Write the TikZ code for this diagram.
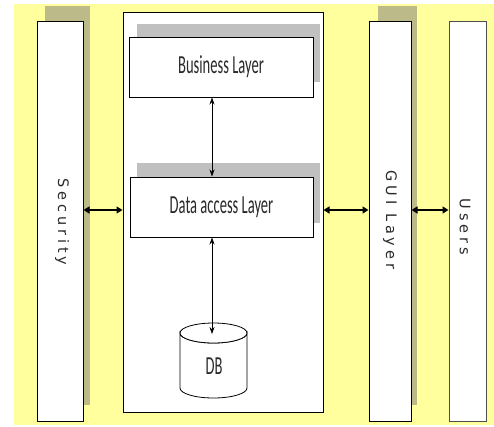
\documentclass[tikz,border=0pt]{standalone}
\usepackage{fontspec}
\setmainfont{Carlito}
\newfontfamily\boxfont[FakeStretch=0.56]{Carlito}
\newfontfamily\colfont[LetterSpace=27]{DejaVu Sans}
\usetikzlibrary{arrows.meta}
\definecolor{bgyellow}{HTML}{FFFF9E}
\definecolor{olshadow}{HTML}{BDBA8A}
\definecolor{grshadow}{HTML}{C0C0C0}
\definecolor{txtgray}{HTML}{2A2A2A}
\tikzset{
  colbox/.style={draw=black, line width=1pt, fill=white, inner sep=0pt},
  layerbox/.style={draw=black, line width=1pt, fill=white, inner sep=0pt,
    font=\boxfont\fontsize{26}{28}\selectfont, text=txtgray},
  collabel/.style={rotate=-90, inner sep=0pt, text=txtgray,
    font=\colfont\fontsize{14.5}{15}\selectfont},
  dbshape/.style={draw=black, line width=0.8pt, fill=white},
  harrow/.style={line width=1.6pt, {Triangle[length=6pt,width=7pt]}-{Triangle[length=6pt,width=7pt]}},
  varrow/.style={line width=0.8pt, {Stealth[length=7pt,width=5pt]}-{Stealth[length=7pt,width=5pt]}},
}
\begin{document}
\begin{tikzpicture}[x=1pt,y=-1pt]
\useasboundingbox (0,0) rectangle (494,426);
\fill[bgyellow] (14,4) rectangle (494,425);
% shadows
\fill[olshadow] (45,6) rectangle (90,405);
\fill[olshadow] (378,6) rectangle (417,405);
% columns
\node[colbox, minimum width=46pt, minimum height=400pt] (sec) at (60,221) {};
\node[collabel] (seclbl) at (62,222) {Security};
\node[colbox, minimum width=42pt, minimum height=400pt] (gui) at (390,221) {};
\node[collabel] (guilbl) at (390,220) {GUI Layer};
\node[colbox, draw=black!70, minimum width=37pt, minimum height=400pt] (users) at (467.5,221) {};
\node[collabel] (userslbl) at (465,227) {Users};
% main box
\node[colbox, minimum width=200pt, minimum height=400pt] (main) at (223,212) {};
% business layer
\fill[grshadow] (137,24) rectangle (320,82);
\node[layerbox, minimum width=184pt, minimum height=60pt] (bus) at (221,67) {Business Layer};
% data access layer
\fill[grshadow] (137,163) rectangle (320,223);
\node[layerbox, minimum width=183pt, minimum height=60pt] (dal) at (221.5,207) {Data access Layer};
% DB cylinder
\filldraw[dbshape] (180,333) -- (180,388) arc[start angle=180, end angle=0, x radius=33.5, y radius=10]
  -- (247,333) arc[start angle=0, end angle=180, x radius=33.5, y radius=10] -- cycle;
\draw[dbshape] (213.5,333) ellipse[x radius=33.5, y radius=10];
\node[inner sep=0pt, font=\boxfont\fontsize{26}{28}\selectfont, text=txtgray] (db) at (214,366) {DB};
\coordinate (dbtop) at (212,334);
% connectors
\draw[varrow] (bus.south -| 212,0) -- (dal.north -| 212,0);
\draw[varrow] (dal.south -| 212,0) -- (dbtop);
\draw[harrow] (sec.east |- 0,210) -- (main.west |- 0,210);
\draw[harrow] (main.east |- 0,210) -- (gui.west |- 0,210);
\draw[harrow] (gui.east |- 0,210) -- (users.west |- 0,210);
\end{tikzpicture}
\end{document}
